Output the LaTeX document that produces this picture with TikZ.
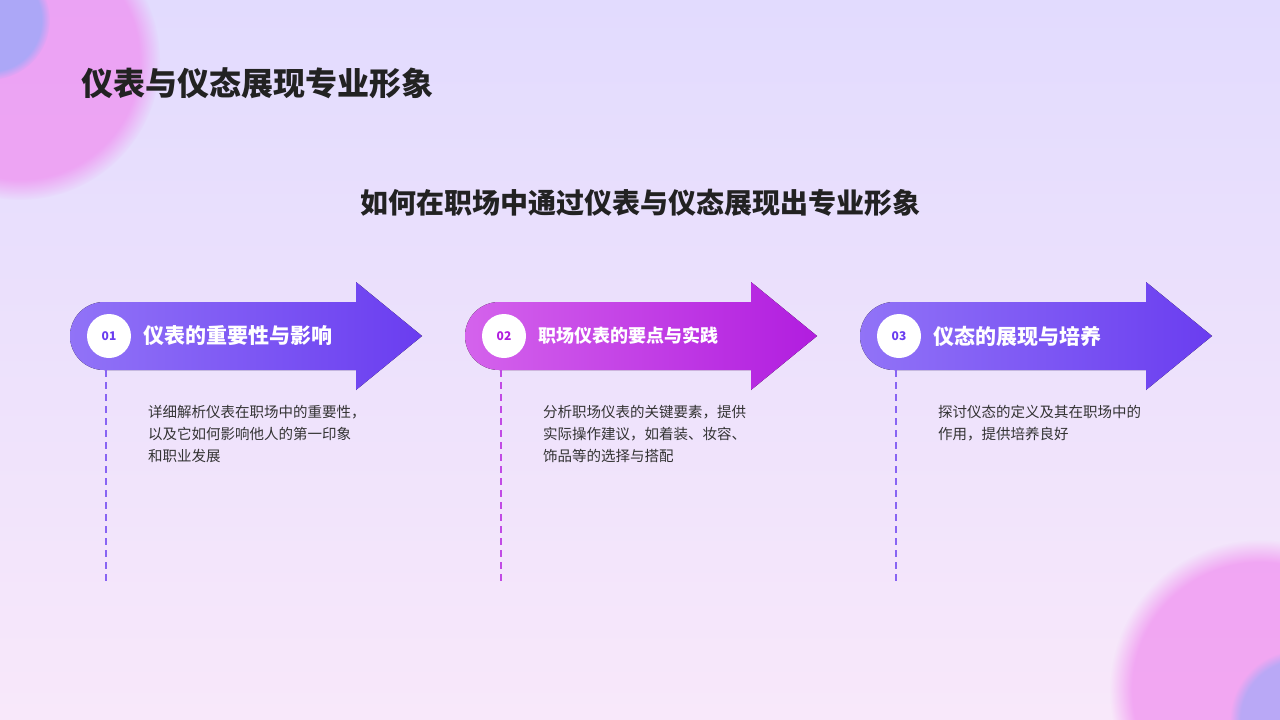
\documentclass[tikz,border=0pt]{standalone}
\usepackage{fontspec}
\setmainfont{Noto Sans CJK SC}
\usetikzlibrary{fadings}
\definecolor{ink}{HTML}{222222}
\definecolor{body}{HTML}{333333}
\definecolor{pa}{HTML}{9173F7}
\definecolor{pb}{HTML}{6A3DF0}
\definecolor{ma}{HTML}{D463EC}
\definecolor{mb}{HTML}{B11DDF}
\definecolor{bgt}{HTML}{E2DBFE}
\definecolor{bgb}{HTML}{F8E8FA}
\definecolor{blobp}{HTML}{F08CF0}
\definecolor{blobb}{HTML}{82AAFA}
\tikzset{
  bigarrow/.style={left color=#1a, right color=#1b, draw=none},
  numdot/.style={circle, fill=white, minimum size=44pt, inner sep=0pt, font=\fontsize{12}{12}\selectfont\bfseries},
  arrtitle/.style={anchor=west, text=white, font=\fontsize{21}{21}\selectfont\bfseries},
  desc/.style={anchor=north west, align=left, text=body, font=\fontsize{14.5}{22}\selectfont, inner sep=0pt},
  guide/.style={line width=1.5pt, dash pattern=on 7pt off 5pt}
}
\begin{document}
\begin{tikzpicture}[x=1pt,y=-1pt]
\useasboundingbox (0,0) rectangle (1280,720);
\fill[top color=bgt, bottom color=bgb] (0,0) rectangle (1280,720);
\fill[blobp, path fading=circle with fuzzy edge 15 percent, opacity=0.7] (20,60) circle (140);
\fill[blobb, path fading=circle with fuzzy edge 15 percent, opacity=0.6] (-10,20) circle (60);
\fill[blobp, path fading=circle with fuzzy edge 15 percent, opacity=0.7] (1260,690) circle (150);
\fill[blobb, path fading=circle with fuzzy edge 15 percent, opacity=0.5] (1300,720) circle (70);

\node[anchor=west, text=ink, font=\fontsize{32}{32}\selectfont\bfseries] (title) at (78,83) {仪表与仪态展现专业形象};
\node[text=ink, font=\fontsize{28}{28}\selectfont\bfseries] (sub) at (640,203) {如何在职场中通过仪表与仪态展现出专业形象};

\foreach \x/\c/\n/\t/\d [count=\i] in {
  70/p/01/仪表的重要性与影响/{详细解析仪表在职场中的重要性，\\以及它如何影响他人的第一印象\\和职业发展},
  465/m/02/职场仪表的要点与实践/{分析职场仪表的关键要素，提供\\实际操作建议，如着装、妆容、\\饰品等的选择与搭配},
  860/p/03/仪态的展现与培养/{探讨仪态的定义及其在职场中的\\作用，提供培养良好}}{
  \fill[bigarrow=\c] (\x+34,302) -- (\x+286,302) -- (\x+286,282) -- (\x+352,336) -- (\x+286,390) -- (\x+286,370) -- (\x+34,370) arc (90:270:34) -- cycle;
  \node[numdot, text=\c b] (n\i) at (\x+39,336) {\n};
  \node[arrtitle, font=\fontsize{\ifnum\i=2 18\else 21\fi}{21}\selectfont\bfseries] (t\i) at (\x+70,336) {\t};
  \coordinate (g\i) at (\x+36,370);
  \coordinate (h\i) at (\x+36,582);
  \draw[guide, draw=\c b!80] (g\i) -- (h\i);
  \node[desc] (d\i) at (\x+78,405) {\d};
}
\end{tikzpicture}
\end{document}
